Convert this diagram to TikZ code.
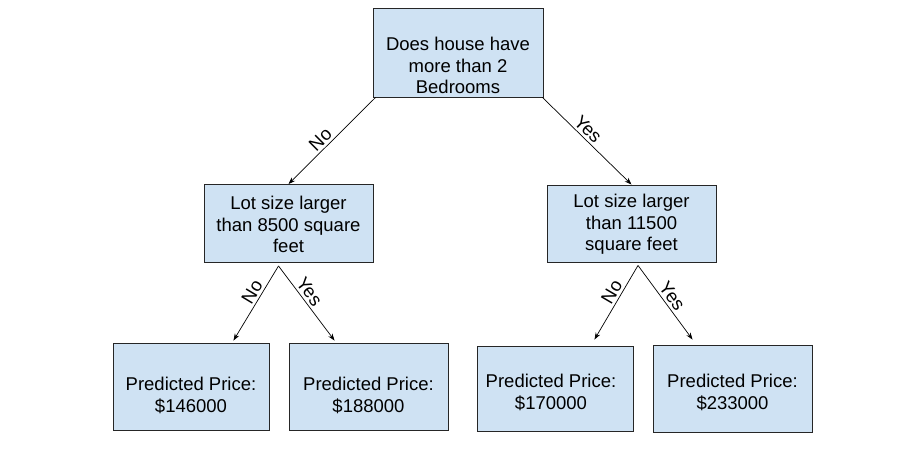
\documentclass[tikz,border=0pt]{standalone}
\usepackage{fontspec}
\setmainfont{Liberation Sans}
\usetikzlibrary{arrows.meta}
\definecolor{boxblue}{HTML}{CFE2F3}
\begin{document}
\begin{tikzpicture}[x=1pt,y=1pt,>={Stealth[length=7pt,width=5pt]},
    box/.style={draw=black!85,line width=0.9pt,fill=boxblue},
    txt/.style={align=center,inner sep=0pt,font=\fontsize{18.5}{21.5}\selectfont},
    lbl/.style={sloped,above,inner sep=2.5pt,font=\fontsize{18.5}{21.5}\selectfont},
    link/.style={->,line width=0.7pt}]
  \useasboundingbox (0,0) rectangle (909,-450);
  % boxes
  \node[box,minimum width=170,minimum height=89] (root) at (458,-52.5) {};
  \node[box,minimum width=169,minimum height=78] (lot1) at (288.5,-223.5) {};
  \node[box,minimum width=169,minimum height=77] (lot2) at (631.5,-223.5) {};
  \node[box,minimum width=156,minimum height=87] (p1) at (191,-386.5) {};
  \node[box,minimum width=159,minimum height=87] (p2) at (368.5,-386.5) {};
  \node[box,minimum width=156,minimum height=85] (p3) at (555,-388.5) {};
  \node[box,minimum width=159,minimum height=87] (p4) at (732.5,-388.5) {};
  % texts
  \node[txt] (roottxt) at ([yshift=-13]root.center) {Does house have\\more than 2\\Bedrooms};
  \node[txt] (lot1txt) at ([yshift=-1]lot1.center) {Lot size larger\\than 8500 square\\feet};
  \node[txt] (lot2txt) at ([yshift=-1]lot2.center) {Lot size larger\\than 11500\\square feet};
  \node[txt] (p1txt) at ([yshift=-9]p1.center) {Predicted Price:\\\$146000};
  \node[txt] (p2txt) at ([yshift=-9]p2.center) {Predicted Price:\\\$188000};
  \node[txt] (p3txt) at ([xshift=-4,yshift=-4]p3.center) {Predicted Price:\\\$170000};
  \node[txt] (p4txt) at ([yshift=-4]p4.center) {Predicted Price:\\\$233000};
  % arrows
  \draw[link] ([xshift=3]root.south west) -- node[lbl,pos=0.56] {No} (lot1.north);
  \draw[link] ([xshift=-1]root.south east) -- node[lbl,pos=0.44] {Yes} (lot2.north);
  \draw[link] ([xshift=-10,yshift=-3]lot1.south) -- node[lbl,pos=0.41] {No} ([xshift=-36,yshift=2]p1.north east);
  \draw[link] ([xshift=-10,yshift=-3]lot1.south) -- node[lbl,pos=0.42] {Yes} ([xshift=46,yshift=2]p2.north west);
  \draw[link] ([xshift=6.5,yshift=-3]lot2.south) -- node[lbl,pos=0.42] {No} ([xshift=-39,yshift=6]p3.north east);
  \draw[link] ([xshift=6.5,yshift=-3]lot2.south) -- node[lbl,pos=0.49] {Yes} ([xshift=40,yshift=5]p4.north west);
\end{tikzpicture}
\end{document}
